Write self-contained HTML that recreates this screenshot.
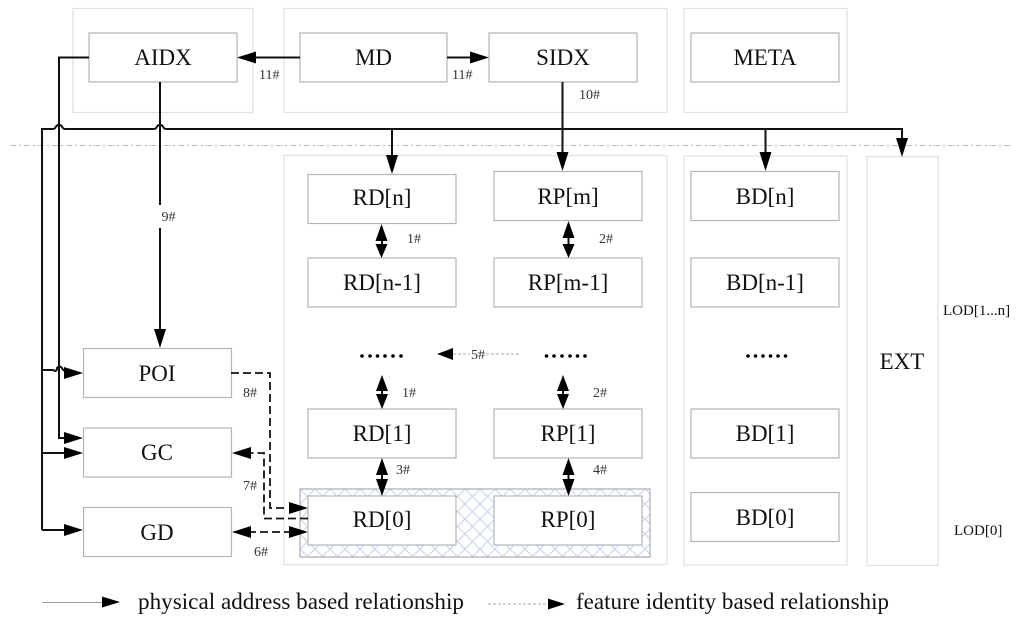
<!DOCTYPE html>
<html><head><meta charset="utf-8"><style>html,body{margin:0;padding:0;background:#fff}svg{display:block;filter:blur(.35px)}text{font-family:"Liberation Serif",serif;fill:#111}.n{font-size:23px;text-anchor:middle}.s{font-size:14px;fill:#333}.l{font-size:23px}</style></head><body>
<svg width="1024" height="621" viewBox="0 0 1024 621" xmlns="http://www.w3.org/2000/svg">
<defs>
<pattern id="h" width="15" height="15" patternUnits="userSpaceOnUse" patternTransform="translate(300 489)"><path d="M0 0L15 15M15 0L0 15" stroke="#c3d3ec" stroke-width="1" fill="none"/></pattern>
</defs>
<rect width="1024" height="621" fill="#fff"/>
<g fill="none" stroke="#e0e0e0" stroke-width="1.2">
<rect x="73" y="8.500" width="180" height="104"/>
<rect x="284" y="8.500" width="383" height="104"/>
<rect x="684" y="8.500" width="163" height="104"/>
<rect x="284" y="155.500" width="383" height="409"/>
<rect x="684" y="156" width="163" height="409"/>
<rect x="867" y="156.500" width="71" height="409"/>
</g>
<path d="M10 145.500H1010" stroke="#bbb" stroke-width="1" stroke-dasharray="6 3 2 3" fill="none"/>
<rect x="300" y="489" width="350" height="68" fill="url(#h)" stroke="#aab" stroke-width="1.200"/>
<g fill="#fff" stroke="#b5b5b5" stroke-width="1.200">
<rect x="89" y="33" width="148" height="49"/><rect x="300" y="33" width="147" height="49"/><rect x="489" y="33" width="148" height="49"/><rect x="691" y="33" width="148" height="49"/>
<rect x="308" y="174.500" width="148" height="49"/><rect x="308" y="258" width="148" height="49"/><rect x="308" y="409" width="148" height="49"/><rect x="308" y="496" width="148" height="49"/>
<rect x="494" y="171.500" width="148" height="49"/><rect x="494" y="258" width="148" height="49"/><rect x="494" y="409" width="148" height="49"/><rect x="494" y="496" width="148" height="49"/>
<rect x="691" y="171.500" width="148" height="49"/><rect x="691" y="258" width="148" height="49"/><rect x="691" y="409" width="148" height="49"/><rect x="691" y="492.500" width="148" height="49"/>
<rect x="83.500" y="348.500" width="148" height="49"/><rect x="83.500" y="428" width="148" height="49"/><rect x="83.500" y="507.500" width="148" height="49"/>
</g>
<g fill="none" stroke="#111" stroke-width="2">
<path d="M89 57.500H59V438H70"/>
<path d="M160 82V205M160 228V335"/>
<path d="M42 530V129H53Q55 129 56 126.500Q59 123 62 126.500Q63 129 65 129H154Q156 129 157 126.500Q160 123 163 126.500Q164 129 166 129H902V145"/>
<path d="M42 370H53L55 371Q57 371 57 368Q59.500 365 62 368Q63 371 65 370H70"/>
<path d="M42 453H70M42 530H70"/>
<path d="M300 57.500H250M447 57.500H478M562.500 82V160M392 129V160M765.500 129V160"/>
<path d="M382 234V250M568.500 230V250M382 385V398M563 385V398M382 470V485M568.500 470V485"/>
</g>
<g fill="none" stroke="#111" stroke-width="1.800" stroke-dasharray="8 4">
<path d="M231 373H270V508H285"/>
<path d="M308 518.500H264V453H250"/>
<path d="M248 532H290"/>
</g>
<g fill="#000">
<path d="M237 57.500L256 51.500V63.500Z"/><path d="M489 57.500L470 51.500V63.500Z"/>
<path d="M160 348L154 329H166Z"/><path d="M392 174L386 155H398Z"/><path d="M562.500 171L556.500 152H568.500Z"/><path d="M765.500 171L759.500 152H771.500Z"/><path d="M902 157L896 138H908Z"/>
<path d="M83 373L64 367V379Z"/><path d="M83 438L64 432V444Z"/><path d="M83 453L64 447V459Z"/><path d="M83 530L64 524V536Z"/>
<path d="M232 453L251 447V459Z"/><path d="M232 532L251 526V538Z"/><path d="M308 508L289 502V514Z"/><path d="M308 532L289 526V538Z"/>
<path d="M381.500 224L375.500 241H387.500Z"/><path d="M381.500 258L375.500 244H387.500Z"/>
<path d="M568.500 221L562.500 238H574.500Z"/><path d="M568.500 258L562.500 244H574.500Z"/>
<path d="M382 375L376 391H388Z"/><path d="M382 409L376 394H388Z"/>
<path d="M563 375L557 391H569Z"/><path d="M563 409L557 394H569Z"/>
<path d="M382 458L376 475H388Z"/><path d="M382 496L376 479H388Z"/>
<path d="M568.500 458L562.500 475H574.500Z"/><path d="M568.500 496L562.500 479H574.500Z"/>
<path d="M437 354L453 348V360Z"/>
<path d="M120 602L102 596.500V607.500Z"/><path d="M565 604L548 598.500V609.500Z"/>
<circle cx="362" cy="356" r="1.800"/><circle cx="370" cy="356" r="1.800"/><circle cx="377.500" cy="356" r="1.800"/><circle cx="385" cy="356" r="1.800"/><circle cx="393" cy="356" r="1.800"/><circle cx="401" cy="356" r="1.800"/>
<circle cx="546.500" cy="356" r="1.800"/><circle cx="554" cy="356" r="1.800"/><circle cx="562" cy="356" r="1.800"/><circle cx="570" cy="356" r="1.800"/><circle cx="577.500" cy="356" r="1.800"/><circle cx="585" cy="356" r="1.800"/>
<circle cx="748" cy="356" r="1.800"/><circle cx="755.500" cy="356" r="1.800"/><circle cx="763" cy="356" r="1.800"/><circle cx="770.500" cy="356" r="1.800"/><circle cx="778" cy="356" r="1.800"/><circle cx="785.500" cy="356" r="1.800"/>
</g>
<path d="M453 354H470M486 354H521M488 604H548" stroke="#aaa" stroke-width="1" stroke-dasharray="3 2" fill="none"/>
<path d="M42 602.500H102" stroke="#999" stroke-width="1" fill="none"/>
<g>
<text class="n" x="163" y="65">AIDX</text><text class="n" x="373.500" y="65">MD</text><text class="n" x="563" y="65">SIDX</text><text class="n" x="765" y="65">META</text>
<text class="n" x="382" y="205">RD[n]</text><text class="n" x="382" y="290">RD[n-1]</text><text class="n" x="382" y="441">RD[1]</text><text class="n" x="382" y="527">RD[0]</text>
<text class="n" x="568" y="204">RP[m]</text><text class="n" x="568" y="290">RP[m-1]</text><text class="n" x="568" y="441">RP[1]</text><text class="n" x="568" y="527">RP[0]</text>
<text class="n" x="765" y="204">BD[n]</text><text class="n" x="765" y="290">BD[n-1]</text><text class="n" x="765" y="441">BD[1]</text><text class="n" x="765" y="525">BD[0]</text>
<text class="n" x="157" y="381">POI</text><text class="n" x="157" y="460">GC</text><text class="n" x="157" y="540">GD</text>
<text class="n" x="902" y="369">EXT</text>
</g>
<g>
<text class="s" x="259" y="79">11#</text><text class="s" x="452" y="79">11#</text><text class="s" x="579" y="99">10#</text>
<text class="s" x="161.500" y="221">9#</text>
<text class="s" x="407" y="243">1#</text><text class="s" x="599" y="243">2#</text>
<text class="s" x="471" y="359">5#</text>
<text class="s" x="402" y="397">1#</text><text class="s" x="593" y="397">2#</text>
<text class="s" x="396" y="474">3#</text><text class="s" x="593" y="474">4#</text>
<text class="s" x="243" y="397">8#</text><text class="s" x="243" y="490">7#</text><text class="s" x="254" y="556">6#</text>
<text class="s" x="943" y="315" style="fill:#111;font-size:15px">LOD[1...n]</text><text class="s" x="954" y="535" style="fill:#111;font-size:15px">LOD[0]</text>
</g>
<text class="l" x="138" y="609" textLength="326" lengthAdjust="spacingAndGlyphs">physical address based relationship</text>
<text class="l" x="576" y="609" textLength="313" lengthAdjust="spacingAndGlyphs">feature identity based relationship</text>
</svg>
</body></html>
